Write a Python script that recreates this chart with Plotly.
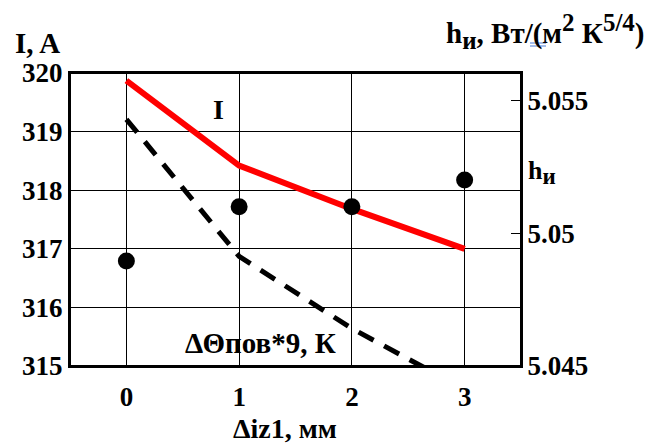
import plotly.graph_objects as go

# Data
x_vals = [0, 1, 2, 3]
current_I = [319.87, 318.42, 317.68, 317.0]
dtheta_x9 = [319.21, 316.87, 315.64, 314.6]
h_vals = [5.04896, 5.0510, 5.0510, 5.05201]

x_ticks = [0, 1, 2, 3]
y_ticks = [315, 316, 317, 318, 319, 320]
y2_ticks = [5.045, 5.05, 5.055]
y2_ticktext = ["5.045", "5.05", "5.055"]

FONT = "'Liberation Serif', 'Times New Roman', serif"

fig = go.Figure()
fig.add_trace(go.Scatter(x=x_vals, y=current_I, mode="lines",
                         line=dict(color="#ff0000", width=6), showlegend=False))
fig.add_trace(go.Scatter(x=x_vals, y=dtheta_x9, mode="lines",
                         line=dict(color="black", width=5, dash="17px,12px"), showlegend=False))
fig.add_trace(go.Scatter(x=x_vals, y=h_vals, mode="markers", yaxis="y2",
                         marker=dict(color="black", size=17), showlegend=False,
                         cliponaxis=False))

L, R, T, B = 70, 663 - 521, 73, 446 - 366
W, H = 663 - L - R, 446 - T - B

def px(X):
    return (X - L) / W

def py(Y):
    return (446 - B - Y) / H

def bold(vals, prefix=""):
    return ["<b>%s%s</b>" % (prefix, v) for v in vals]

tickfont = dict(family=FONT, size=27, color="black")
fig.update_layout(
    width=663, height=446,
    margin=dict(l=L, r=R, t=T, b=B),
    paper_bgcolor="white", plot_bgcolor="white",
    font=dict(family=FONT, color="black", size=27),
    xaxis=dict(range=[-0.5, 3.5], tickvals=x_ticks, ticktext=bold(x_ticks), showgrid=True,
               gridcolor="black", gridwidth=1, showline=True, linecolor="black", linewidth=2,
               mirror=True, zeroline=False, ticks="outside", ticklen=6,
               tickcolor="rgba(0,0,0,0)", tickfont=tickfont),
    yaxis=dict(range=[315, 320], tickvals=y_ticks, ticktext=bold(y_ticks), showgrid=True,
               gridcolor="black", gridwidth=1, showline=True, linecolor="black", linewidth=2,
               mirror=True, zeroline=False, ticks="", tickfont=tickfont),
    yaxis2=dict(range=[5.045, 5.05604], overlaying="y", side="right",
                tickvals=y2_ticks, ticktext=bold(y2_ticktext, "\u2009"), showgrid=False,
                zeroline=False, ticks="inside", ticklen=10, tickcolor="black", tickwidth=1,
                showline=False, tickfont=tickfont),
)

# plot frame
fig.add_shape(type="rect", xref="paper", yref="paper", x0=0, x1=1, y0=0, y1=1,
              line=dict(color="black", width=2), fillcolor="rgba(0,0,0,0)", layer="above")

SS = "<span style='font-size:%dpx'>%s</span>"
title_txt = ("<b>h<sub>" + SS % (25, "и") + "</sub>, Вт/(м<sup>" + SS % (25, "2")
             + "</sup> К<sup>" + SS % (25, "5/4") + "</sup>)</b>")
hlabel_txt = "<b>h<sub>" + SS % (23, "и") + "</sub></b>"

ann = [
    dict(text="<b>I, A</b>", x=px(13), y=py(43), xanchor="left", yanchor="middle", size=29),
    dict(text=title_txt, x=px(444), y=py(32), xanchor="left", yanchor="middle", size=29),
    dict(text="<b>I</b>", x=px(218), y=py(109), xanchor="center", yanchor="middle", size=28),
    dict(text=hlabel_txt, x=px(526), y=py(172), xanchor="left", yanchor="middle", size=26),
    dict(text="<b>ΔΘпов*9, К</b>", x=px(260), y=py(343), xanchor="center", yanchor="middle", size=29),
    dict(text="<b>Δiz1, мм</b>", x=px(285), y=py(446), xanchor="center", yanchor="bottom", size=28),
]
for a in ann:
    fig.add_annotation(text=a["text"], x=a["x"], y=a["y"], xref="paper", yref="paper",
                       xanchor=a["xanchor"], yanchor=a["yanchor"], showarrow=False,
                       font=dict(family=FONT, size=a["size"], color="black"))

# small blue double underline artifact under "("
for yy in (43, 46):
    fig.add_shape(type="line", xref="paper", yref="paper",
                  x0=px(530), x1=px(546), y0=py(yy), y1=py(yy),
                  line=dict(color="#4a7bd8", width=1))

fig.write_html("out.html", config={"displayModeBar": False},
               post_script="document.body.style.margin='0px';")
